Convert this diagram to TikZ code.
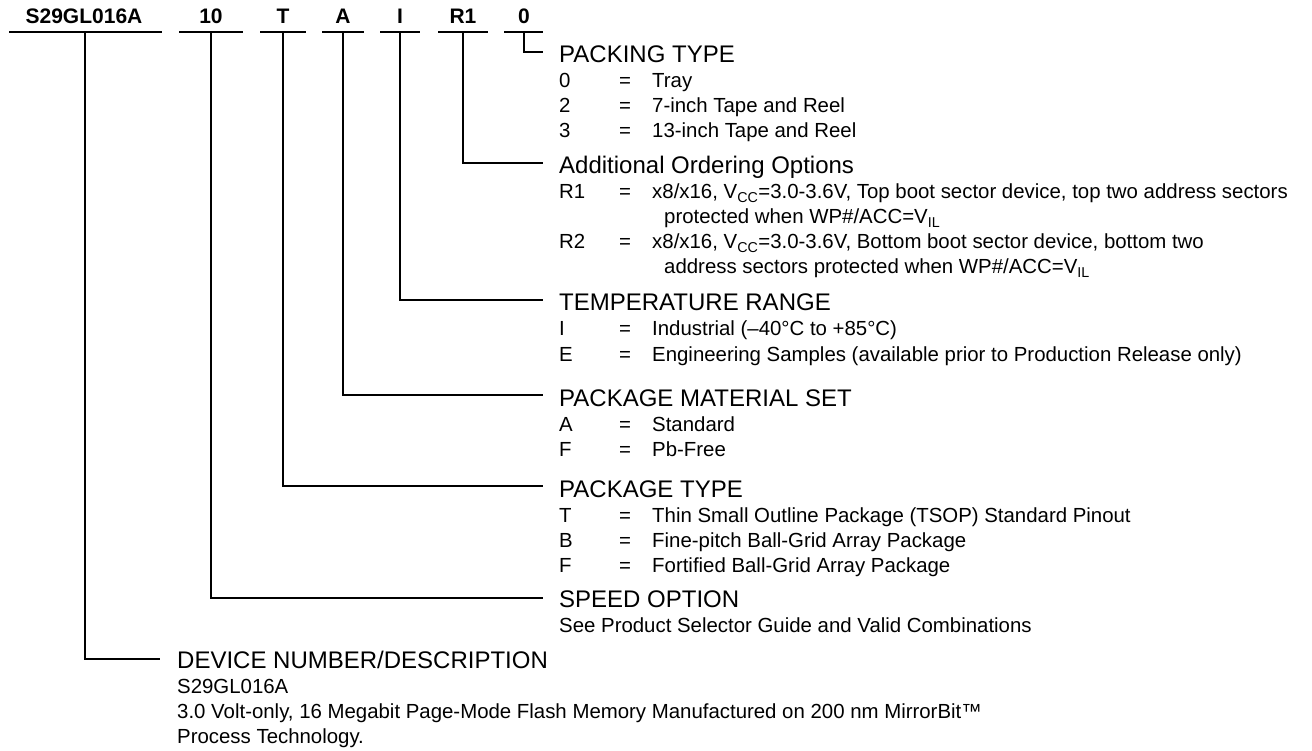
\documentclass[tikz,border=0pt]{standalone}
\usepackage{fontspec}
\setmainfont{Liberation Sans}
\newcommand\optrow[4]{%
  \node[body] (#1c) at (559,#2) {#3};
  \node[body] (#1e) at (619,#2) {=};
  \node[body] (#1t) at (652,#2) {#4};}
\begin{document}
\begin{tikzpicture}[x=1pt,y=-1pt,
  conn/.style={line width=1.6pt},
  code/.style={font=\fontsize{21}{21}\selectfont\bfseries, anchor=base, inner sep=0pt},
  head/.style={font=\fontsize{24}{24}\selectfont, anchor=base west, inner sep=0pt},
  body/.style={font=\fontsize{20.4}{20.4}\selectfont, anchor=base west, inner sep=0pt}]
\useasboundingbox (0,0) rectangle (1312,751);
% codes
\node[code] (cDev) at (84,24) {S29GL016A};
\node[code] (cSpd) at (211,24) {10};
\node[code] (cPkg) at (283,24) {T};
\node[code] (cMat) at (343,24) {A};
\node[code] (cTmp) at (400,24) {I};
\node[code] (cOpt) at (463,24) {R1};
\node[code] (cPck) at (524,24) {0};
% underlines
\draw[conn] (9,32) -- (162,32);
\draw[conn] (179,32) -- (243,32);
\draw[conn] (260,32) -- (306,32);
\draw[conn] (322,32) -- (364,32);
\draw[conn] (380,32) -- (420,32);
\draw[conn] (438,32) -- (488,32);
\draw[conn] (504,32) -- (543,32);
% connector coordinates
\coordinate (uPck) at (524,32); \coordinate (ePck) at (543,52);
\coordinate (uOpt) at (463,32); \coordinate (eOpt) at (543,163);
\coordinate (uTmp) at (400,32); \coordinate (eTmp) at (543,300);
\coordinate (uMat) at (343,32); \coordinate (eMat) at (543,395);
\coordinate (uPkg) at (283,32); \coordinate (ePkg) at (543,486);
\coordinate (uSpd) at (211,32); \coordinate (eSpd) at (543,598);
\coordinate (uDev) at (85,32);  \coordinate (eDev) at (160,659);
\draw[conn] (uPck) |- (ePck);
\draw[conn] (uOpt) |- (eOpt);
\draw[conn] (uTmp) |- (eTmp);
\draw[conn] (uMat) |- (eMat);
\draw[conn] (uPkg) |- (ePkg);
\draw[conn] (uSpd) |- (eSpd);
\draw[conn] (uDev) |- (eDev);
% packing type
\node[head] (hPck) at (559,63) {PACKING TYPE};
\optrow{pA}{88}{0}{Tray}
\optrow{pB}{113}{2}{7-inch Tape and Reel}
\optrow{pC}{138}{3}{13-inch Tape and Reel}
% additional ordering options
\node[head] (hOpt) at (559,174) {Additional Ordering Options};
\optrow{oA}{199}{R1}{x8/x16, V\textsubscript{CC}=3.0-3.6V, Top boot sector device, top two address sectors}
\node[body] (oA2) at (664,224) {protected when WP\#/ACC=V\textsubscript{IL}};
\optrow{oB}{249}{R2}{x8/x16, V\textsubscript{CC}=3.0-3.6V, Bottom boot sector device, bottom two}
\node[body] (oB2) at (664,274) {address sectors protected when WP\#/ACC=V\textsubscript{IL}};
% temperature
\node[head] (hTmp) at (559,311) {TEMPERATURE RANGE};
\optrow{tA}{336}{I}{Industrial (–40°C to +85°C)}
\optrow{tB}{361}{E}{Engineering Samples (available prior to Production Release only)}
% material
\node[head] (hMat) at (559,406) {PACKAGE MATERIAL SET};
\optrow{mA}{431}{A}{Standard}
\optrow{mB}{456}{F}{Pb-Free}
% package type
\node[head] (hPkg) at (559,497) {PACKAGE TYPE};
\optrow{kA}{522}{T}{Thin Small Outline Package (TSOP) Standard Pinout}
\optrow{kB}{547}{B}{Fine-pitch Ball-Grid Array Package}
\optrow{kC}{572}{F}{Fortified Ball-Grid Array Package}
% speed
\node[head] (hSpd) at (559,607) {SPEED OPTION};
\node[body] (sA) at (559,632) {See Product Selector Guide and Valid Combinations};
% device
\node[head] (hDev) at (177,668) {DEVICE NUMBER/DESCRIPTION};
\node[body] (dA) at (177,693) {S29GL016A};
\node[body] (dB) at (177,718) {3.0 Volt-only, 16 Megabit Page-Mode Flash Memory Manufactured on 200 nm MirrorBit™};
\node[body] (dC) at (177,743) {Process Technology.};
\end{tikzpicture}
\end{document}
